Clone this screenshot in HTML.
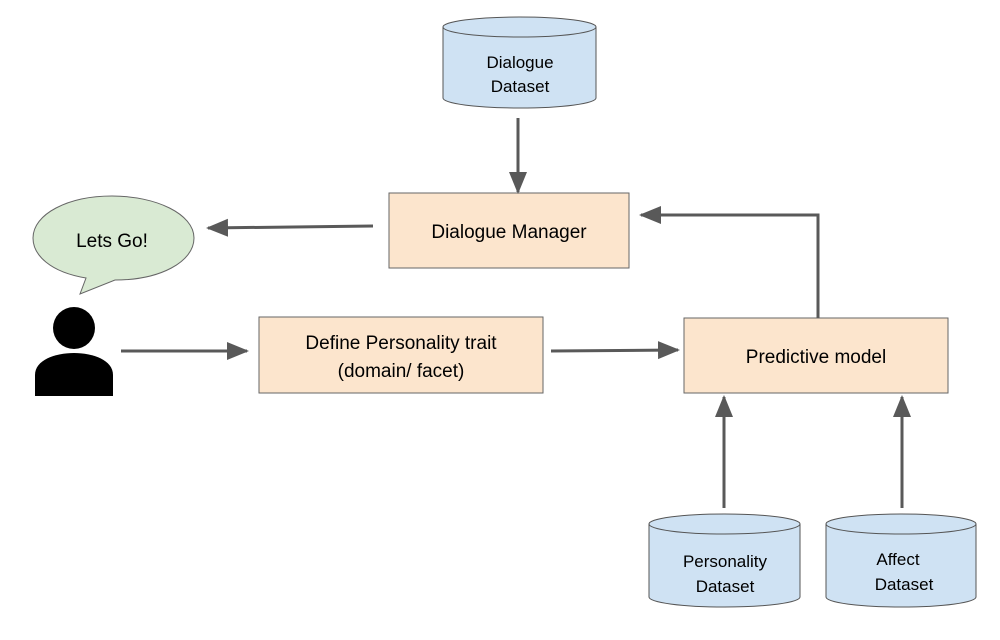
<!DOCTYPE html>
<html><head><style>body{margin:0;background:#fff}svg{display:block}text{font-family:"Liberation Sans",Arial,sans-serif;fill:#000}</style></head>
<body>
<svg width="1000" height="640" viewBox="0 0 1000 640">
<defs><marker id="a" markerWidth="10" markerHeight="10" refX="8" refY="5" orient="auto" markerUnits="userSpaceOnUse" viewBox="0 0 10 10"><path d="M0,0 L10,5 L0,10 z" fill="#595959"/></marker>
<marker id="b" markerWidth="22" markerHeight="22" refX="20" refY="11" orient="auto" markerUnits="userSpaceOnUse" viewBox="0 0 22 22"><path d="M0,2 L22,11 L0,20 z" fill="#595959"/></marker></defs>
<!-- cylinders -->
<g stroke="#555" stroke-width="1" fill="#cfe2f3">
<path d="M443,27 L443,98 A76.5,10 0 0 0 596,98 L596,27"/>
<ellipse cx="519.5" cy="27" rx="76.5" ry="10"/>
<path d="M649,524 L649,597 A75.5,10 0 0 0 800,597 L800,524"/>
<ellipse cx="724.5" cy="524" rx="75.5" ry="10"/>
<path d="M826,524 L826,597 A75,10 0 0 0 976,597 L976,524"/>
<ellipse cx="901" cy="524" rx="75" ry="10"/>
</g>
<text x="520" y="68" font-size="17" text-anchor="middle">Dialogue</text>
<text x="520" y="92" font-size="17" text-anchor="middle">Dataset</text>
<text x="725" y="567" font-size="17" text-anchor="middle">Personality</text>
<text x="725" y="592" font-size="17" text-anchor="middle">Dataset</text>
<text x="898" y="565" font-size="17" text-anchor="middle">Affect</text>
<text x="904" y="590" font-size="17" text-anchor="middle">Dataset</text>
<!-- boxes -->
<g fill="#fce5cd" stroke="#666" stroke-width="1">
<rect x="389" y="193" width="240" height="75"/>
<rect x="259" y="317" width="284" height="76"/>
<rect x="684" y="318" width="264" height="75"/>
</g>
<text x="509" y="238" font-size="19" text-anchor="middle">Dialogue Manager</text>
<text x="401" y="349" font-size="19" text-anchor="middle">Define Personality trait</text>
<text x="401" y="377" font-size="19" text-anchor="middle">(domain/ facet)</text>
<text x="816" y="363" font-size="19" text-anchor="middle">Predictive model</text>
<!-- bubble -->
<path d="M86,278 C50,272 33,255 33,238 C33,214 68,196 112,196 C156,196 194,214 194,238 C194,262 160,280 115,280 L80,294 Z" fill="#d9ead3" stroke="#666" stroke-width="1"/>
<text x="112" y="247" font-size="19" text-anchor="middle">Lets Go!</text>
<!-- person -->
<circle cx="74" cy="328" r="21" fill="#000"/>
<path d="M35,396 L35,375 C35,360 55,353 74,353 C93,353 113,360 113,375 L113,396 Z" fill="#000"/>
<!-- arrows -->
<g stroke="#595959" stroke-width="3" fill="none">
<line x1="518" y1="118" x2="518" y2="192" marker-end="url(#b)"/>
<line x1="373" y1="226" x2="208" y2="228" marker-end="url(#b)"/>
<line x1="121" y1="351" x2="247" y2="351" marker-end="url(#b)"/>
<line x1="551" y1="351" x2="678" y2="350" marker-end="url(#b)"/>
<polyline points="818,318 818,215 641,215" marker-end="url(#b)"/>
<line x1="724" y1="508" x2="724" y2="397" marker-end="url(#b)"/>
<line x1="902" y1="508" x2="902" y2="397" marker-end="url(#b)"/>
</g>
</svg>
</body></html>
